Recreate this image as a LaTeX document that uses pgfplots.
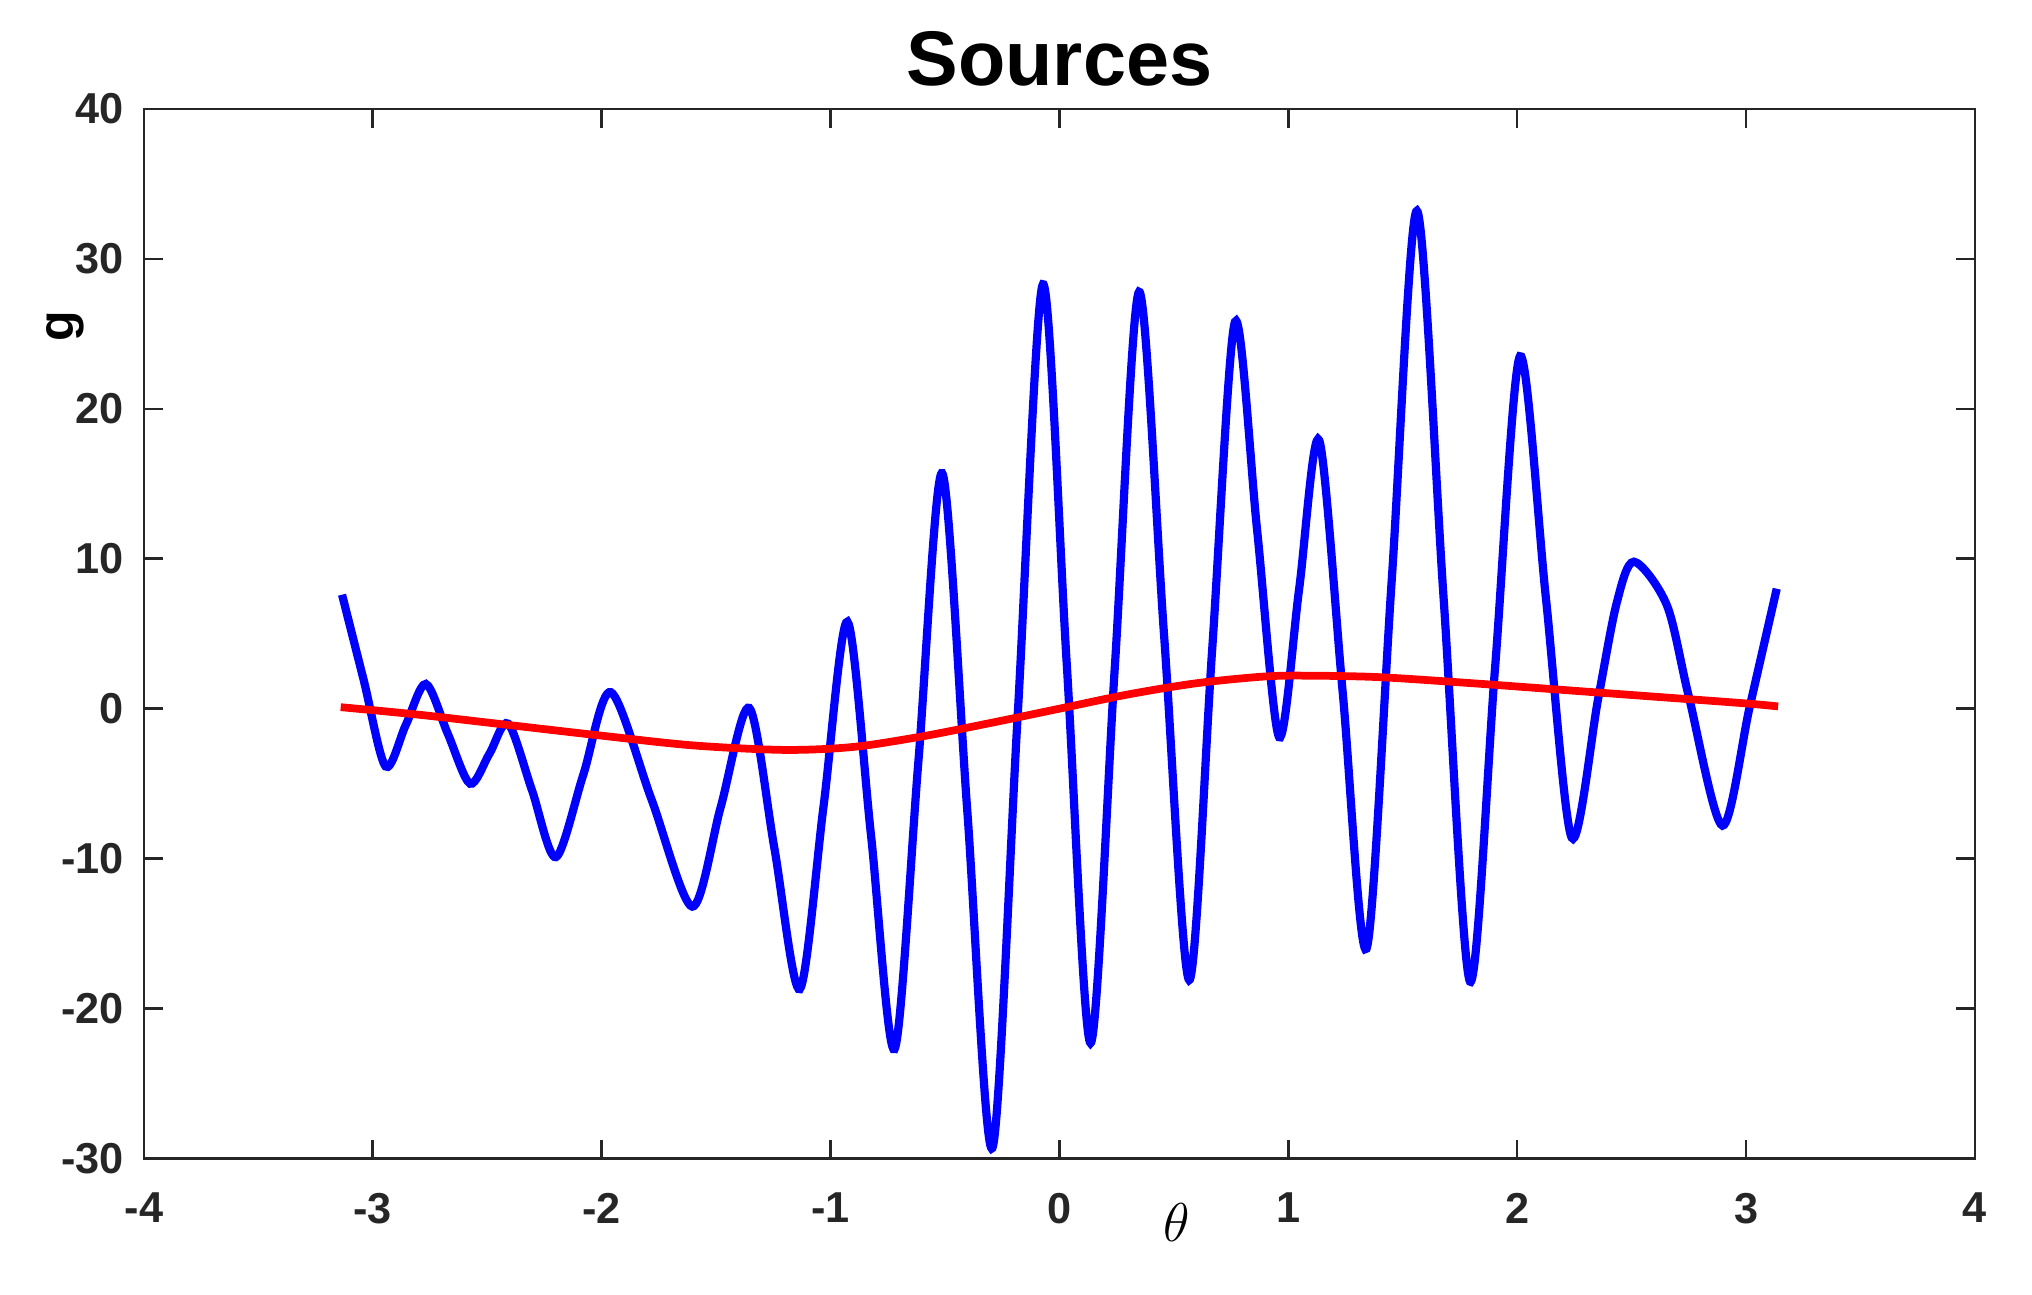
\documentclass[border=0pt]{standalone}
\usepackage{fontspec}
\setmainfont{Liberation Sans}
\usepackage{pgfplots}
\pgfplotsset{compat=1.18}
\definecolor{axgray}{HTML}{262626}

\begin{document}
\begin{tikzpicture}
\begin{axis}[
    scale only axis,
    width=141.3mm, height=81mm,
    xmin=-4, xmax=4, ymin=-30, ymax=40,
    xtick={-4,-3,...,4},
    ytick={-30,-20,...,40},
    tick align=inside,
    major tick length=1.44mm,
    axis line style={axgray, line width=0.55pt},
    tick style={axgray, line width=0.55pt},
    ticklabel style={font=\fontsize{9.5}{11}\selectfont\bfseries, text=axgray},
    /pgf/number format/assume math mode=true,
    yticklabel style={xshift=-0.3mm},
    xticklabel style={yshift=-1.4mm},
    title={\fontsize{17}{20}\selectfont\bfseries Sources},
    title style={at={(axis description cs:0.5,1)}, anchor=south, yshift=-1.6mm},
    xlabel={\fontsize{12}{14}\selectfont$\theta$},
    xlabel style={at={(axis description cs:0.564,0)}, anchor=north, yshift=-2.2mm},
    ylabel={\fontsize{11}{12}\selectfont\bfseries g},
    ylabel style={at={(axis description cs:-0.043,0.793)}, anchor=center},
]
% oscillating source (blue)
\addplot[blue, line width=1.8pt, smooth, tension=0.5] coordinates {
    (-3.134, 7.6) (-3.039, 1.875) (-2.944, -3.85) (-2.856, -1.1)
    (-2.768, 1.65) (-2.672, -1.675) (-2.575, -5.0) (-2.49, -3.0)
    (-2.408, -1.0) (-2.304, -5.45) (-2.20, -9.9) (-2.08, -4.4)
    (-1.96, 1.1) (-1.782, -6.05) (-1.604, -13.2) (-1.48, -6.575)
    (-1.355, 0.05) (-1.245, -9.325) (-1.134, -18.7) (-1.03, -6.45)
    (-0.926, 5.8) (-0.823, -8.45) (-0.72, -22.7) (-0.616, -3.5)
    (-0.512, 15.7) (-0.4025, -6.8) (-0.293, -29.3) (-0.1825, -0.5)
    (-0.072, 28.3) (0.032, 3.0) (0.136, -22.3) (0.242, 2.75)
    (0.348, 27.8) (0.4575, 4.85) (0.567, -18.1) (0.667, 3.85)
    (0.767, 25.8) (0.8635, 11.95) (0.96, -1.9) (1.0475, 8.0)
    (1.135, 17.9) (1.2385, 0.95) (1.342, -16.0) (1.452, 8.6)
    (1.562, 33.2) (1.678, 7.5) (1.794, -18.2) (1.903, 2.65)
    (2.012, 23.5) (2.125, 7.45) (2.238, -8.6) (2.353, 0.6)
    (2.434, 7.0) (2.51, 9.8) (2.654, 6.9) (2.75, 0.8)
    (2.897, -7.8) (3.0155, 0.1) (3.134, 8.0)
};
% slow component (red)
\addplot[red, line width=1.7pt, smooth] coordinates {
    (-3.14, 0.1) (-2.8, -0.4) (-2.4, -1.1) (-2.0, -1.8) (-1.6, -2.45)
    (-1.2, -2.75) (-0.9, -2.55) (-0.6, -1.85) (-0.3, -0.95) (0, 0.0)
    (0.3, 0.95) (0.6, 1.7) (0.9, 2.15) (1.1, 2.2) (1.4, 2.1)
    (1.8, 1.7) (2.2, 1.25) (2.6, 0.8) (3.0, 0.35) (3.14, 0.15)
};
\end{axis}
\path ([shift={(-11.1mm,-10.5mm)}]current axis.south west)
    rectangle ([shift={(145.7mm,89.4mm)}]current axis.south west);
\end{tikzpicture}
\end{document}
